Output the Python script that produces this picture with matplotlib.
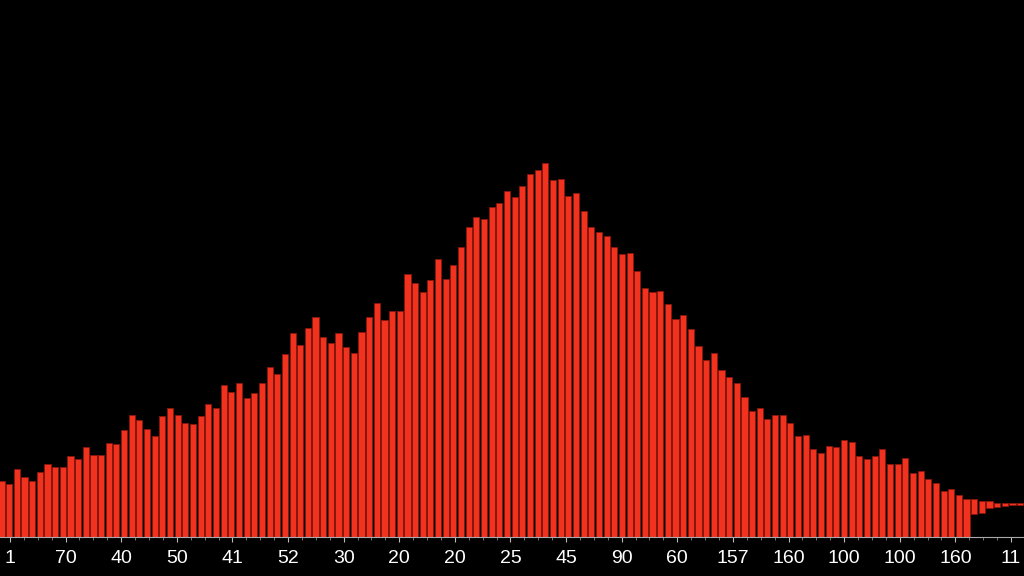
import numpy as np
import matplotlib
matplotlib.use('Agg')
import matplotlib.pyplot as plt
from matplotlib.ticker import FixedLocator, AutoMinorLocator

# bar heights (units = px above the baseline)
heights = [56, 53, 68, 60, 56, 65, 73, 70, 70, 81, 78, 90, 82, 82, 94, 93, 107, 122, 117, 108,
           101, 121, 129, 122, 114, 113, 121, 133, 129, 152, 145, 154, 139, 144, 154, 170, 163, 183,
           204, 192, 209, 220, 200, 194, 204, 190, 184, 205, 220, 234, 217, 226, 226, 263, 254, 245,
           257, 278, 258, 272, 290, 310, 320, 318, 330, 334, 346, 340, 351, 363, 367, 374, 357, 358,
           341, 344, 326, 310, 305, 301, 290, 283, 284, 266, 249, 245, 246, 233, 218, 222, 208, 191,
           177, 184, 167, 160, 154, 140, 126, 129, 118, 122, 122, 114, 101, 102, 88, 84, 91, 90,
           97, 95, 81, 78, 81, 88, 73, 73, 79, 64, 66, 58, 54, 46, 48, 42, 38]

# small floating bars at the right end
tail_top = [37.7, 36.3, 35.7, 34.3, 33.7, 33.7, 33.7]
tail_bottom = [22.7, 24.3, 29.0, 29.7, 31.0, 31.7, 32.0]

tick_labels = ['1', '70', '40', '50', '41', '52', '30', '20', '20', '25',
               '45', '90', '60', '157', '160', '100', '100', '160', '11']

bar_color = '#F0321E'
edge_color = '#8A170C'

fig = plt.figure(figsize=(10.24, 5.76), dpi=100, facecolor='black')
ax = fig.add_axes([0, 39 / 576, 1, 537 / 576])
ax.set_facecolor('black')

x = np.arange(len(heights))
ax.bar(x, heights, width=0.8, color=bar_color, edgecolor=edge_color, linewidth=0.6)

xt = np.arange(len(heights), len(heights) + len(tail_top))
tail_h = np.array(tail_top) - np.array(tail_bottom)
ax.bar(xt, tail_h, bottom=tail_bottom, width=0.8, color=bar_color,
       edgecolor=edge_color, linewidth=0.6)

ax.set_xlim(-0.2, 133.5)
ax.set_ylim(0, 537)

for s in ['top', 'left', 'right']:
    ax.spines[s].set_visible(False)
ax.spines['bottom'].set_color('#AAAAAA')
ax.spines['bottom'].set_linewidth(0.8)

ax.xaxis.set_major_locator(FixedLocator(np.linspace(1.1, 131.8, len(tick_labels))))
ax.set_xticklabels(tick_labels)
ax.xaxis.set_minor_locator(AutoMinorLocator(4))
ax.tick_params(axis='x', which='major', colors='#BBBBBB', length=3.5, width=0.8,
               pad=6, labelsize=14, labelcolor='white')
ax.tick_params(axis='x', which='minor', colors='#888888', length=1.8, width=0.6)
for lbl in ax.get_xticklabels():
    lbl.set_fontfamily('Liberation Sans')
ax.set_yticks([])

fig.savefig('out.png', dpi=100, facecolor='black')
